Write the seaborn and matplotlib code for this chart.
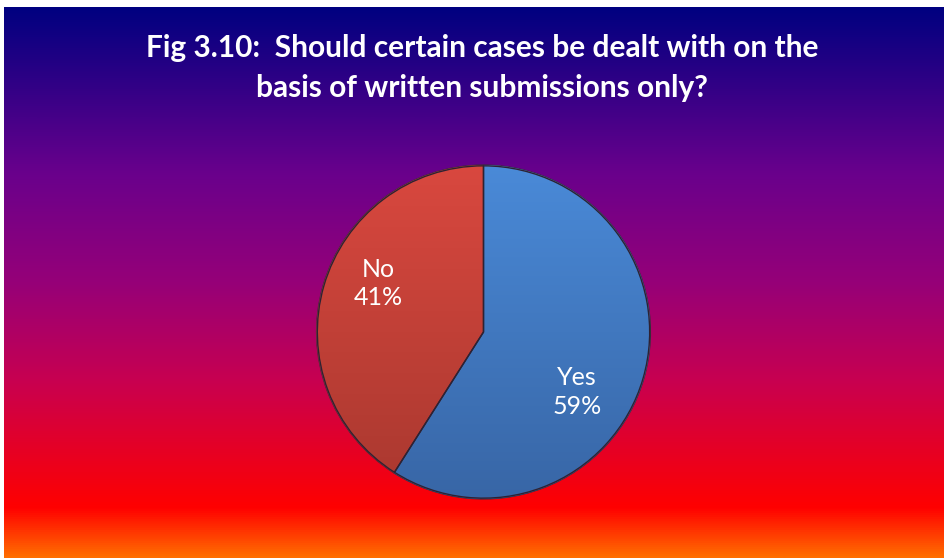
import numpy as np
import matplotlib
matplotlib.use("Agg")
import matplotlib.pyplot as plt
from matplotlib.colors import LinearSegmentedColormap
from matplotlib.patches import Wedge
import seaborn as sns

# Survey responses
categories = ["Yes", "No"]
shares = [59, 41]
title_text = "Fig 3.10:  Should certain cases be dealt with on the\nbasis of written submissions only?"

sns.set_theme(style="white")
plt.rcParams["font.family"] = ["Lato", "DejaVu Sans"]

W, H = 945, 559
fig = plt.figure(figsize=(W / 100, H / 100), dpi=100)
fig.patch.set_facecolor("white")

# Background panel with a vertical "fire" gradient
bg = fig.add_axes([4 / W, 1 / H, (W - 4) / W, (H - 8) / H])
bg.set_axis_off()
stops = [
    (0.00, (0 / 255, 0 / 255, 128 / 255)),
    (0.30, (105 / 255, 0 / 255, 140 / 255)),
    (0.50, (150 / 255, 0 / 255, 120 / 255)),
    (0.68, (200 / 255, 0 / 255, 80 / 255)),
    (0.91, (255 / 255, 0 / 255, 0 / 255)),
    (1.00, (255 / 255, 110 / 255, 0 / 255)),
]
fire = LinearSegmentedColormap.from_list("fire", stops)
grad = np.linspace(0, 1, 512).reshape(-1, 1)
bg.imshow(grad, aspect="auto", cmap=fire, extent=[0, 1, 1, 0])
bg.set_xlim(0, 1)
bg.set_ylim(1, 0)

# Title
fig.text(482 / W, 1 - 68 / H, title_text, ha="center", va="center",
         color="white", fontsize=21.5, fontweight="bold", linespacing=1.5)

# Pie
cx, cy, r = 483.5, 332, 167
ax = fig.add_axes([(cx - r) / W, (H - cy - r) / H, 2 * r / W, 2 * r / H])
ax.set_axis_off()
palette = sns.color_palette(["#4683cf", "#c9433d"])
wedges, _ = ax.pie(shares, colors=palette, startangle=90, counterclock=False,
                   radius=1.0, wedgeprops=dict(edgecolor="#3a2a3a", linewidth=0.8))
ax.set_xlim(-1.0, 1.0)
ax.set_ylim(-1.0, 1.0)
ax.set_aspect("equal")

# soft shading on each slice
shade_maps = [
    LinearSegmentedColormap.from_list("b", ["#3866a6", "#4a8ad8"]),
    LinearSegmentedColormap.from_list("r", ["#a9382f", "#d9483f"]),
]
vg = np.linspace(0, 1, 256).reshape(-1, 1)
for w, cm in zip(wedges, shade_maps):
    im = ax.imshow(vg, cmap=cm, extent=[-1, 1, -1, 1], origin="lower",
                   aspect="auto", zorder=w.get_zorder() + 0.1)
    im.set_clip_path(w)
    edge = Wedge((0, 0), 0.995, w.theta1, w.theta2, facecolor="none",
                 edgecolor="#2e2233", linewidth=1.0, zorder=w.get_zorder() + 0.2)
    ax.add_patch(edge)
ax.set_xlim(-1.0, 1.0)
ax.set_ylim(-1.0, 1.0)

label_pos = {"Yes": (0.56, -0.36), "No": (-0.63, 0.29)}
for cat, val in zip(categories, shares):
    x, y = label_pos[cat]
    ax.text(x, y, f"{cat}\n{val}%", ha="center", va="center", color="white",
            fontsize=18, linespacing=1.3, zorder=10)

fig.savefig("out.png", dpi=100, facecolor="white")
